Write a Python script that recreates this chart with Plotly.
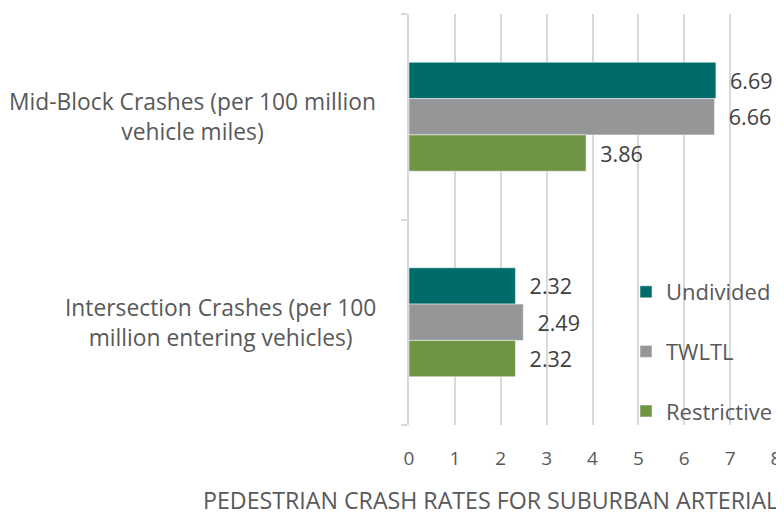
import plotly.graph_objects as go

categories = ["Mid-Block Crashes (per 100 million<br>vehicle miles)",
              "Intersection Crashes (per 100<br>million entering vehicles)"]
series_names = ["Undivided", "TWLTL", "Restrictive"]
undivided = [6.69, 2.32]
twltl = [6.66, 2.49]
restrictive = [3.86, 2.32]
x_ticks = [0, 1, 2, 3, 4, 5, 6, 7, 8]
x_title = "PEDESTRIAN CRASH RATES FOR SUBURBAN ARTERIALS"

colors = ["#006B6B", "#959698", "#6F9442"]
FONT = "Open Sans"
TXT = "#595959"
# page has an 8px body margin; figure is sized/offset to compensate
W, H = 776, 506
L, R, T, B = 401, 8, 6, 89
pw, ph = W - L - R, H - T - B

fig = go.Figure()
for i, (name, vals) in enumerate(zip(series_names, [undivided, twltl, restrictive])):
    fig.add_trace(go.Bar(
        y=[0, 1], x=vals, name=name, orientation="h",
        marker=dict(color=colors[i], line=dict(color="white", width=0.5)),
        text=[f"{v:.2f}" for v in vals],
        texttemplate="  %{text}",
        textposition="outside",
        textfont=dict(family=FONT, size=21.5, color="#404040"),
        cliponaxis=False,
        legendgroup=name,
    ))

for j, cat in enumerate(categories):
    fig.add_annotation(
        x=(370 - L) / pw, xref="paper", y=j, yref="y",
        text=cat, showarrow=False, xanchor="right", yanchor="middle",
        align="center", font=dict(family=FONT, size=22.8, color=TXT),
    )

fig.add_annotation(
    x=(193 - L) / pw, xref="paper", y=(H - B - 492) / ph, yref="paper",
    text=x_title, showarrow=False, xanchor="left", yanchor="middle",
    font=dict(family=FONT, size=23.2, color=TXT),
)

fig.update_layout(
    width=W, height=H,
    margin=dict(l=L, r=R, t=T, b=B, pad=0, autoexpand=False),
    paper_bgcolor="white", plot_bgcolor="white",
    barmode="group", bargap=0.47, bargroupgap=0,
    showlegend=True,
    legend=dict(
        x=(618 - L) / pw, xanchor="left",
        y=(H - B - 263) / ph, yanchor="top",
        font=dict(family=FONT, size=22, color=TXT),
        bgcolor="rgba(0,0,0,0)", tracegroupgap=28,
        itemclick=False,
    ),
    xaxis=dict(
        range=[0, 8], tickvals=x_ticks, ticktext=[str(t) for t in x_ticks],
        showgrid=True, gridcolor="#d9d9d9", gridwidth=1.5,
        zeroline=False, showline=False, ticks="",
        ticklabelstandoff=20,
        tickfont=dict(family=FONT, size=19, color=TXT),
        fixedrange=True,
    ),
    yaxis=dict(
        range=[1.5, -0.5], tickvals=[0, 1], ticktext=["", ""],
        showline=True, linecolor="#d9d9d9", linewidth=1.5,
        ticks="", showgrid=False, zeroline=False, fixedrange=True,
        minor=dict(tickvals=[-0.5, 0.5, 1.5], ticks="outside",
                   ticklen=6, tickcolor="#d9d9d9", tickwidth=1.5),
    ),
)

fig.write_html("out.html")
